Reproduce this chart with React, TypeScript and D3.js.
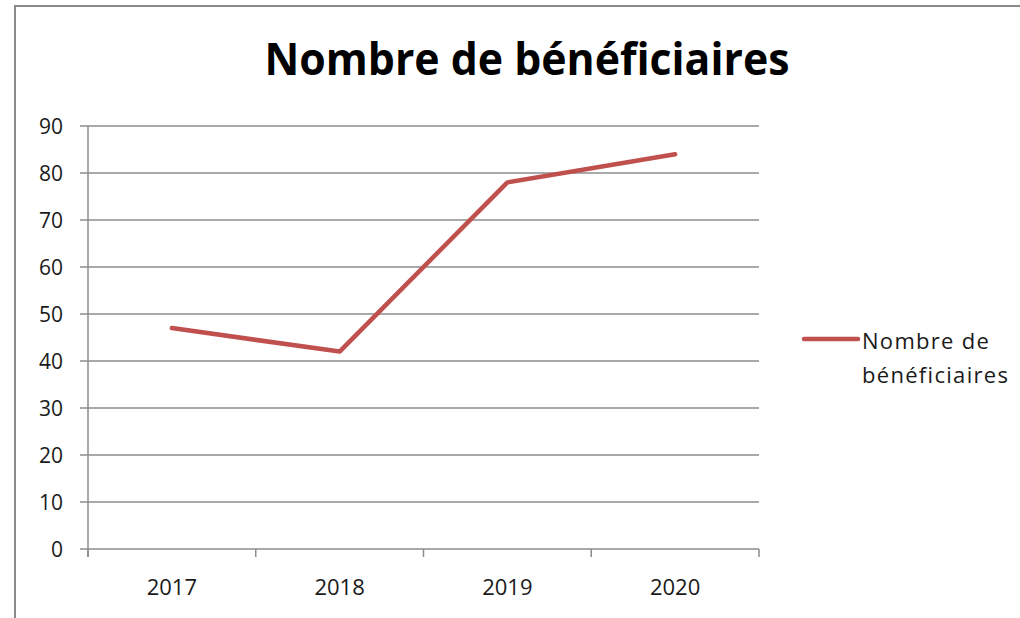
import React, { useEffect, useRef } from "react";
import * as d3 from "d3";

const categories = ["2017", "2018", "2019", "2020"];
const values = [47, 42, 78, 84];
const yTicks = [0, 10, 20, 30, 40, 50, 60, 70, 80, 90];
const title = "Nombre de bénéficiaires";
const legendLines = ["Nombre de", "bénéficiaires"];

export default function App() {
  const ref = useRef<SVGSVGElement>(null);
  useEffect(() => {
    const svg = d3.select(ref.current);
    svg.selectAll("*").remove();
    const W = 1020, H = 618;
    const left = 88, right = 759, top = 126, bottom = 549;
    const font = "'Open Sans', 'DejaVu Sans', sans-serif";

    svg.append("rect").attr("width", W).attr("height", H).attr("fill", "#fff");
    // outer chart border
    svg.append("path").attr("d", `M15,${H + 2}V6H${W + 2}`).attr("fill", "none")
      .attr("stroke", "#8a8a8a").attr("stroke-width", 2);

    const x = d3.scaleBand<string>().domain(categories).range([left, right]);
    const y = d3.scaleLinear().domain([0, 90]).range([bottom, top]);

    // gridlines + y ticks
    svg.append("g").selectAll("line").data(yTicks).join("line")
      .attr("x1", left - 8).attr("x2", right)
      .attr("y1", d => y(d)).attr("y2", d => y(d))
      .attr("stroke", "#8c8c8c").attr("stroke-width", 1.5);
    svg.append("g").selectAll("text").data(yTicks).join("text")
      .attr("x", 63).attr("y", d => y(d) + 7.5)
      .attr("text-anchor", "end").attr("font-family", font).attr("font-size", 21)
      .attr("fill", "#1a1a1a").text(d => String(d));

    // y axis line
    svg.append("line").attr("x1", left).attr("x2", left).attr("y1", top).attr("y2", bottom + 8)
      .attr("stroke", "#8c8c8c").attr("stroke-width", 1.5);
    // x tick marks at band boundaries
    const bounds = categories.map(c => x(c)!).concat([right]);
    svg.append("g").selectAll("line").data(bounds).join("line")
      .attr("x1", d => d).attr("x2", d => d).attr("y1", bottom).attr("y2", bottom + 8)
      .attr("stroke", "#8c8c8c").attr("stroke-width", 1.5);
    svg.append("g").selectAll("text").data(categories).join("text")
      .attr("x", d => x(d)! + x.bandwidth() / 2).attr("y", 595)
      .attr("text-anchor", "middle").attr("font-family", font).attr("font-size", 22)
      .attr("fill", "#1a1a1a").text(d => d);

    // line
    const line = d3.line<number>()
      .x((_, i) => x(categories[i])! + x.bandwidth() / 2)
      .y(d => y(d));
    svg.append("path").datum(values).attr("d", line).attr("fill", "none")
      .attr("stroke", "#c0504d").attr("stroke-width", 4.5)
      .attr("stroke-linecap", "round").attr("stroke-linejoin", "round");

    // title
    svg.append("text").attr("x", 527).attr("y", 75).attr("text-anchor", "middle")
      .attr("font-family", font).attr("font-weight", "bold").attr("font-size", 44)
      .attr("textLength", 525).attr("lengthAdjust", "spacingAndGlyphs")
      .attr("fill", "#000").text(title);

    // legend
    svg.append("line").attr("x1", 804).attr("x2", 858).attr("y1", 339).attr("y2", 339)
      .attr("stroke", "#c0504d").attr("stroke-width", 4.5).attr("stroke-linecap", "round");
    svg.append("g").selectAll("text").data(legendLines).join("text")
      .attr("x", 862).attr("y", (_, i) => 349 + i * 34)
      .attr("font-family", font).attr("font-size", 22).attr("letter-spacing", 1.3)
      .attr("fill", "#1a1a1a")
      .text(d => d);
  }, []);
  return (
    <svg ref={ref} width={1020} height={618}
      style={{ position: "absolute", left: 0, top: 0, display: "block" }} />
  );
}
